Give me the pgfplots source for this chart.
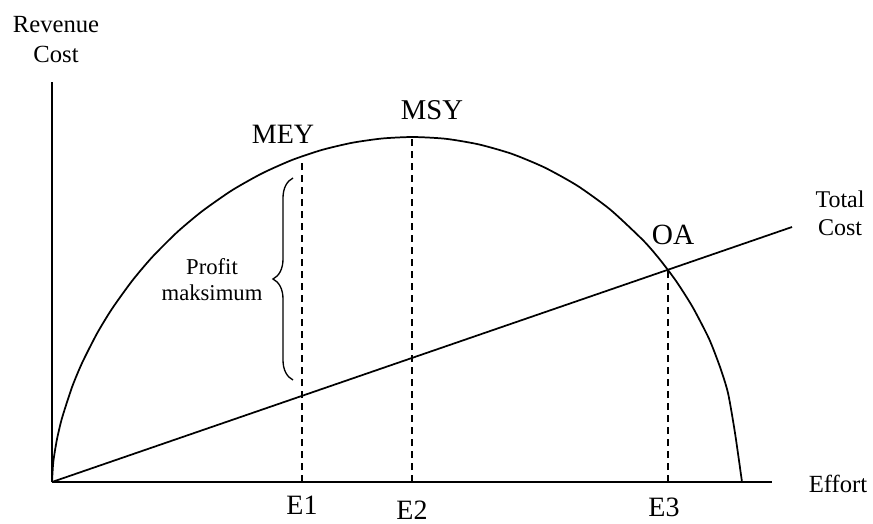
\documentclass[border=0pt]{standalone}
\usepackage{pgfplots}
\pgfplotsset{compat=1.18}
\usepackage{fontspec}
\setmainfont{Liberation Serif}
\usetikzlibrary{decorations.pathreplacing}
\begin{document}
\begin{tikzpicture}
\begin{axis}[
  scale only axis,
  width=540pt, height=300pt,
  xmin=0, xmax=720, ymin=0, ymax=400,
  axis lines=left,
  axis line style={-, line width=1.1pt},
  xtick=\empty, ytick=\empty,
  clip=false,
]
% bounding box of the whole picture
\path (axis cs:-52,-39) rectangle (axis cs:821,482);
% revenue curve
\addplot[black, line width=1.3pt, smooth, tension=0.4] coordinates {
(0,0) (1,16.9) (2,25.3) (5,42.9) (10,63.9) (20,94.8) (30,118.9) (45,148.5)
(60,173.2) (80,201.0) (100,224.7) (125,249.7) (150,270.7) (180,291.7)
(210,308.6) (240,322.0) (270,332.1) (300,339.2) (330,343.5) (361,345)
(393.9,343.2) (426.8,337.6) (459.7,328.2) (492.6,314.5) (525.5,296.2)
(558.4,272.3) (591.3,241.5) (607.75,222.6) (624.2,200.8) (640.65,174.9)
(657.1,143.1) (668,115) (676,89) (683,49) (690,0)
};
% total cost
\addplot[black, line width=1.3pt] coordinates {(0,0) (740,255)};
% dashed verticals
\addplot[black, line width=1.1pt, dash pattern=on 5.5pt off 3.5pt] coordinates {(250,0) (250,322)};
\addplot[black, line width=1.1pt, dash pattern=on 5.5pt off 3.5pt] coordinates {(360,0) (360,345)};
\addplot[black, line width=1.1pt, dash pattern=on 5.5pt off 3.5pt] coordinates {(616,0) (616,212)};
% brace
\draw[line width=1pt, decorate, decoration={brace, amplitude=15pt}] (axis cs:241,102) -- (axis cs:241,304);
% labels
\node[anchor=base, font=\fontsize{18.5}{20}\selectfont] at (axis cs:4,450) {Revenue};
\node[anchor=base, font=\fontsize{18.5}{20}\selectfont] at (axis cs:4,420) {Cost};
\node[anchor=base, font=\fontsize{21}{24}\selectfont] at (axis cs:231,339) {MEY};
\node[anchor=base, font=\fontsize{21.5}{24}\selectfont] at (axis cs:380,363) {MSY};
\node[anchor=base, font=\fontsize{22}{24}\selectfont] at (axis cs:621,238) {OA};
\node[anchor=base, font=\fontsize{18}{20}\selectfont] at (axis cs:788,275) {Total};
\node[anchor=base, font=\fontsize{18}{20}\selectfont] at (axis cs:788,247) {Cost};
\node[anchor=base, font=\fontsize{18.5}{20}\selectfont] at (axis cs:786,-10) {Effort};
\node[anchor=base, font=\fontsize{21}{24}\selectfont] at (axis cs:250,-32) {E1};
\node[anchor=base, font=\fontsize{21}{24}\selectfont] at (axis cs:360,-37) {E2};
\node[anchor=base, font=\fontsize{21}{24}\selectfont] at (axis cs:612,-34) {E3};
\node[anchor=base, font=\fontsize{17}{19}\selectfont] at (axis cs:160,208) {Profit};
\node[anchor=base, font=\fontsize{17}{19}\selectfont] at (axis cs:160,182) {maksimum};
\end{axis}
\end{tikzpicture}
\end{document}
